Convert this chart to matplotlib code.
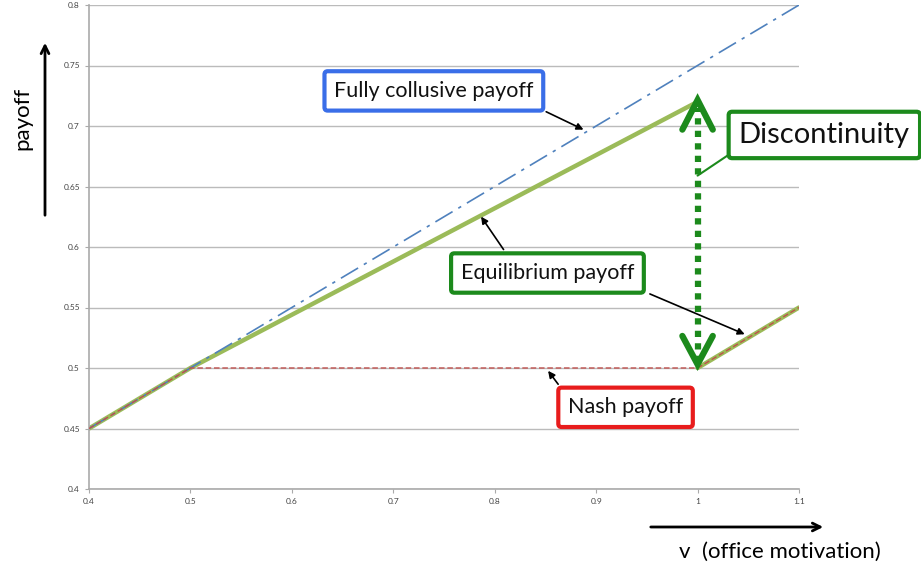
import matplotlib
matplotlib.use("Agg")
import matplotlib.pyplot as plt
import numpy as np

plt.rcParams['font.family'] = ['Lato', 'DejaVu Sans']

# data
v_collusive = [0.4, 1.1]
p_collusive = [0.45, 0.80]

v_eq_low = [0.4, 0.5, 1.0]
p_eq_low = [0.45, 0.50, 0.72]
v_eq_high = [1.0, 1.1]
p_eq_high = [0.50, 0.55]

v_nash = [0.4, 0.5, 1.0, 1.1]
p_nash = [0.45, 0.50, 0.50, 0.55]

x_ticks = [0.4, 0.5, 0.6, 0.7, 0.8, 0.9, 1.0, 1.1]
x_labels = ['0.4', '0.5', '0.6', '0.7', '0.8', '0.9', '1', '1.1']
y_ticks = [0.4, 0.45, 0.5, 0.55, 0.6, 0.65, 0.7, 0.75, 0.8]
y_labels = ['0.4', '0.45', '0.5', '0.55', '0.6', '0.65', '0.7', '0.75', '0.8']

W, H = 921, 569
fig = plt.figure(figsize=(W / 100, H / 100), dpi=100)
ax = fig.add_axes([89 / W, 1 - 489 / H, 710 / W, 484 / H])

dgreen = '#1c8a1c'

ax.plot(v_nash, p_nash, color='#c0504d', lw=1, ls=(0, (4, 2)), zorder=3)
ax.plot(v_eq_low, p_eq_low, color='#9bbb59', lw=3.2, solid_capstyle='round', zorder=2)
ax.plot(v_eq_high, p_eq_high, color='#9bbb59', lw=3.2, solid_capstyle='round', zorder=2)
ax.plot(v_collusive, p_collusive, color='#4f81bd', lw=1.2, ls=(0, (12, 4, 2, 4)), zorder=2)

ax.set_xlim(0.4, 1.1)
ax.set_ylim(0.4, 0.8)
ax.set_xticks(x_ticks)
ax.set_xticklabels(x_labels)
ax.set_yticks(y_ticks)
ax.set_yticklabels(y_labels)
ax.tick_params(labelsize=6, colors='#444444', length=3, width=0.8)
ax.tick_params(axis='both', color='#aaaaaa')
ax.grid(axis='y', color='#bbbbbb', lw=1)
ax.set_axisbelow(True)
for s in ['top', 'right']:
    ax.spines[s].set_visible(False)
for s in ['left', 'bottom']:
    ax.spines[s].set_color('#aaaaaa')
    ax.spines[s].set_linewidth(1.2)

# discontinuity double arrow (dotted shaft with open chevron heads)
ax.plot([1.0, 1.0], [0.505, 0.715], color=dgreen, lw=4.5, ls=(0, (1, 1)), zorder=4, clip_on=False)
ax.plot([0.985, 1.0, 1.015], [0.697, 0.7215, 0.697], color=dgreen, lw=4.5,
        solid_capstyle='round', solid_joinstyle='miter', zorder=4)
ax.plot([0.985, 1.0, 1.015], [0.5265, 0.503, 0.5265], color=dgreen, lw=4.5,
        solid_capstyle='round', solid_joinstyle='miter', zorder=4)

arrow = dict(arrowstyle='-|>', color='black', lw=1.2, mutation_scale=10)
box = 'round,pad=0.45,rounding_size=0.15'

ax.annotate('Fully collusive payoff', xy=(0.89, 0.696), xytext=(0.740, 0.729),
            fontsize=15.5, ha='center', va='center', color='#111111',
            bbox=dict(boxstyle=box, fc='white', ec='#3a6ee8', lw=3),
            arrowprops=dict(arrow, relpos=(0.95, 0.0)), zorder=6)

ax.annotate('Equilibrium payoff', xy=(0.785, 0.627), xytext=(0.852, 0.5785),
            fontsize=15.5, ha='center', va='center', color='#111111',
            bbox=dict(boxstyle=box, fc='white', ec=dgreen, lw=3),
            arrowprops=dict(arrow, relpos=(0.3, 1.0)), zorder=6)
ax.annotate('', xy=(1.049, 0.527), xytext=(0.953, 0.5612),
            arrowprops=dict(arrow, shrinkA=0), zorder=6)

ax.annotate('Nash payoff', xy=(0.851, 0.4995), xytext=(0.929, 0.4675),
            fontsize=15.5, ha='center', va='center', color='#111111',
            bbox=dict(boxstyle=box, fc='white', ec='#e81c1c', lw=3),
            arrowprops=dict(arrow, relpos=(0.0, 1.0)), zorder=6)

ax.annotate('Discontinuity', xy=(1.0, 0.659), xytext=(1.125, 0.6926),
            fontsize=21, ha='center', va='center', color='#111111', annotation_clip=False,
            bbox=dict(boxstyle='round,pad=0.35,rounding_size=0.12', fc='white', ec=dgreen, lw=3),
            arrowprops=dict(arrowstyle='-', color=dgreen, lw=1.5, relpos=(0.0, 0.0),
                            shrinkA=0, shrinkB=0), zorder=6)

# outer axis labels with arrows
fig.text(22 / W, 1 - 118 / H, 'payoff', rotation=90, fontsize=16, ha='center', va='center')
fig.add_artist(matplotlib.patches.FancyArrowPatch((45 / W, 1 - 218 / H), (45 / W, 1 - 40 / H),
               transform=fig.transFigure, arrowstyle='->', mutation_scale=14, lw=2, color='black'))
fig.text(780 / W, 1 - 552 / H, 'v  (office motivation)', fontsize=16, ha='center', va='center')
fig.add_artist(matplotlib.patches.FancyArrowPatch((648 / W, 1 - 527 / H), (826 / W, 1 - 527 / H),
               transform=fig.transFigure, arrowstyle='->', mutation_scale=14, lw=2, color='black'))

fig.savefig('out.png', dpi=100)
